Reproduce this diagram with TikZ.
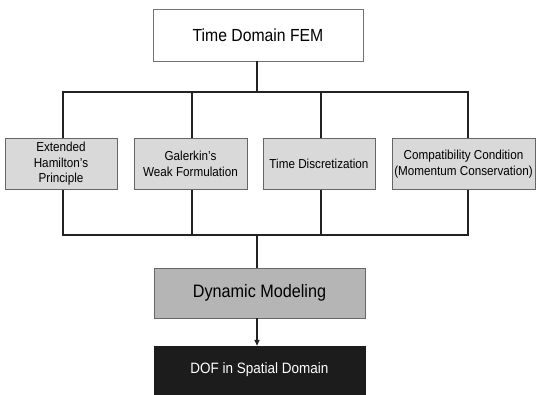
\documentclass[tikz,border=0pt]{standalone}
\usepackage{fontspec}
\setmainfont{Liberation Sans}[FakeStretch=0.9]
\usetikzlibrary{arrows.meta}
\definecolor{boxgray}{HTML}{D9D9D9}
\definecolor{midgray}{HTML}{B5B5B5}
\definecolor{darkfill}{HTML}{1C1C1C}
\definecolor{linecol}{HTML}{222222}
\begin{document}
\begin{tikzpicture}[x=1bp,y=-1bp,
  topbox/.style={draw=black!55,line width=0.8bp,fill=white,inner sep=0pt,
    minimum width=210bp,minimum height=52bp,
    font=\fontsize{17.5bp}{21bp}\selectfont},
  midbox/.style={draw=black!60,line width=0.8bp,fill=boxgray,inner sep=0pt,align=center,
    minimum height=51bp,font=\fontsize{13bp}{15.5bp}\selectfont},
  dynbox/.style={draw=black!60,line width=0.8bp,fill=midgray,inner sep=0pt,
    minimum width=211bp,minimum height=50bp,
    font=\fontsize{18bp}{21bp}\selectfont},
  dofbox/.style={draw=darkfill,fill=darkfill,text=white,inner sep=0pt,
    minimum width=211bp,minimum height=48bp,
    font=\fontsize{15bp}{18bp}\selectfont},
  conn/.style={draw=linecol,line width=2bp},
]
\useasboundingbox (0,0) rectangle (537,394);
\node[topbox] (top) at (258,35) {Time Domain FEM};
\node[midbox,minimum width=112bp] (b1) at (61,164) {Extended\\Hamilton's\\Principle};
\node[midbox,minimum width=113bp] (b2) at (190.5,164) {Galerkin's\\Weak Formulation};
\node[midbox,minimum width=112bp] (b3) at (319,164) {Time Discretization};
\node[midbox,minimum width=143bp] (b4) at (463.5,164) {Compatibility Condition\\(Momentum Conservation)};
\node[dynbox] (dyn) at (259.5,293) {Dynamic Modeling};
\node[dofbox] (dof) at (259.5,370) {DOF in Spatial Domain};
\coordinate (t) at (257,92);
\coordinate (u) at (257,235);
\coordinate (p1) at ([xshift=2bp]b1.north);
\coordinate (p2) at ([xshift=1.5bp]b2.north);
\coordinate (p3) at ([xshift=2bp]b3.north);
\coordinate (p4) at ([xshift=4.5bp]b4.north);
\coordinate (q1) at ([xshift=2bp]b1.south);
\coordinate (q2) at ([xshift=1.5bp]b2.south);
\coordinate (q3) at ([xshift=2bp]b3.south);
\coordinate (q4) at ([xshift=4.5bp]b4.south);
\draw[conn] (top.south -| t) -- (t);
\draw[conn] (p1) -- (p1 |- t) -- (p4 |- t) -- (p4);
\draw[conn] (p2) -- (p2 |- t);
\draw[conn] (p3) -- (p3 |- t);
\draw[conn] (q1) -- (q1 |- u) -- (q4 |- u) -- (q4);
\draw[conn] (q2) -- (q2 |- u);
\draw[conn] (q3) -- (q3 |- u);
\draw[conn] (u) -- (u |- dyn.north);
\draw[conn,-{Triangle[length=6bp,width=5bp]}] (dyn.south -| u) -- (dof.north -| u);
\end{tikzpicture}
\end{document}
